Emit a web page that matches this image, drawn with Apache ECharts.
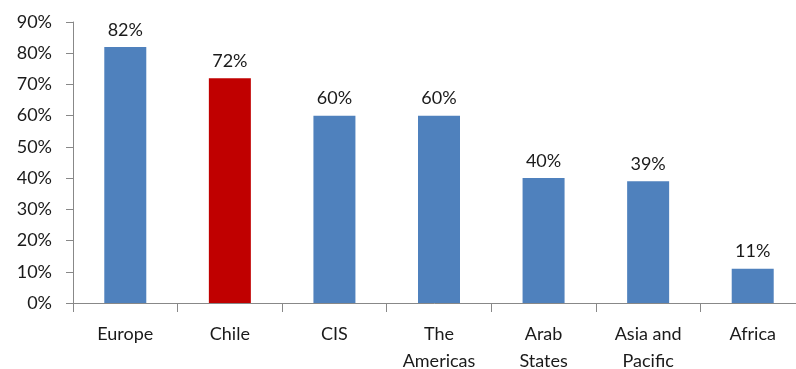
<!DOCTYPE html>
<html><head><meta charset="utf-8">
<script src="https://cdn.jsdelivr.net/npm/echarts@6/dist/echarts.min.js"></script>
<style>html,body{margin:0;padding:0;background:#fff}#c{width:796px;height:369px}</style>
</head><body><div id="c"></div>
<script>
const categories = ['Europe', 'Chile', 'CIS', 'The\nAmericas', 'Arab\nStates', 'Asia and\nPacific', 'Africa'];
const values = [82, 72, 60, 60, 40, 39, 11];
const highlight = ['Chile'];
const yTicks = [0, 10, 20, 30, 40, 50, 60, 70, 80, 90];

const blue = '#4f81bd', red = '#c00000';
const font = 'Lato, "Open Sans", sans-serif';
const chart = echarts.init(document.getElementById('c'), null, {renderer: 'canvas'});
chart.setOption({
  animation: false,
  grid: {left: 73, right: -9, top: 22, bottom: 66, containLabel: false, outerBoundsMode: 'none'},
  xAxis: {
    type: 'category', data: categories,
    axisLine: {lineStyle: {color: '#888', width: 1}},
    axisTick: {show: true, length: 9, lineStyle: {color: '#888'}},
    axisLabel: {color: '#1a1a1a', fontSize: 18, fontFamily: font, margin: 18, lineHeight: 27, interval: 0}
  },
  yAxis: {
    type: 'value', min: yTicks[0], max: yTicks[yTicks.length - 1], interval: 10,
    splitLine: {show: false},
    axisLine: {show: true, lineStyle: {color: '#888'}},
    axisTick: {show: true, length: 7, lineStyle: {color: '#888'}},
    axisLabel: {color: '#1a1a1a', fontSize: 18, fontFamily: font, margin: 21, formatter: v => v + '%'}
  },
  series: [{
    type: 'bar', barWidth: 42,
    data: values.map((v, i) => ({value: v, itemStyle: {color: highlight.includes(categories[i]) ? red : blue}})),
    label: {show: true, position: 'top', distance: 8, color: '#1a1a1a', fontSize: 18, fontFamily: font, formatter: p => p.value + '%'}
  }]
});
</script></body></html>
